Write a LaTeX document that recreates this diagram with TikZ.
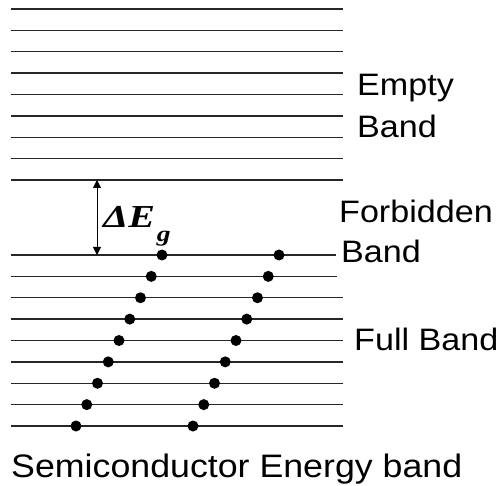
\documentclass[tikz,border=0pt]{standalone}
\usepackage{fontspec}
\usepackage{xcolor}
\usepackage{tikz}
\usetikzlibrary{arrows.meta,positioning}
\newfontfamily\labelfont[FakeStretch=1.1]{Liberation Sans}
\newfontfamily\gapfont[FakeStretch=1.25]{Liberation Serif}
\definecolor{bk90}{HTML}{262626}
\tikzset{
  level/.style={draw=bk90, line width=1.4pt},
  electron/.style={circle, fill=black, inner sep=0pt, minimum size=11pt},
  bandlabel/.style={font=\labelfont\fontsize{31}{31}\selectfont,
    anchor=base west, inner sep=0pt},
  gaparrow/.style={{Triangle[length=8pt,width=8pt]}-{Triangle[length=8pt,width=8pt]},
    line width=1pt},
}
\begin{document}
\begin{tikzpicture}[x=1pt, y=-1pt]
\useasboundingbox (0,0) rectangle (503,486);

% Empty band levels
\foreach \i in {0,...,8}
  \draw[level] (11,9+21.375*\i) -- (343,9+21.375*\i);

% Full band levels (top two stop short of the labels)
\foreach \i/\xe in {0/336,1/337,2/343,3/343,4/343,5/343,6/343,7/343,8/343}
  \draw[level] (11,255+21.375*\i) -- (\xe,255+21.375*\i);

% Electrons
\foreach \i in {0,...,8} {
  \node[electron] (l\i) at (162-10.75*\i,255+21.375*\i) {};
  \node[electron] (r\i) at (279-10.75*\i,255+21.375*\i) {};
}

% Gap
\coordinate (gaptop) at (97,180);
\coordinate (gapbot) at (97,255);
\draw[gaparrow] (gaptop) -- (gapbot);
\node[anchor=base west, inner sep=0pt,
  font=\gapfont\bfseries\itshape\fontsize{32}{32}\selectfont] (gap) at (103,228)
  {ΔE\kern2pt{\fontsize{22}{22}\selectfont\raisebox{-14pt}{g}}};

% Labels
\node[bandlabel] (empty) at (357,96) {Empty};
\node[bandlabel] (emptyb) at (357,138) {Band};
\node[bandlabel] (forbid) at (339,223) {Forbidden};
\node[bandlabel] (forbidb) at (341,262) {Band};
\node[bandlabel] (full) at (354,350) {Full Band};
\node[bandlabel, font=\labelfont\fontsize{32.5}{32.5}\selectfont] (title) at (11,477)
  {Semiconductor Energy band};

\end{tikzpicture}
\end{document}
